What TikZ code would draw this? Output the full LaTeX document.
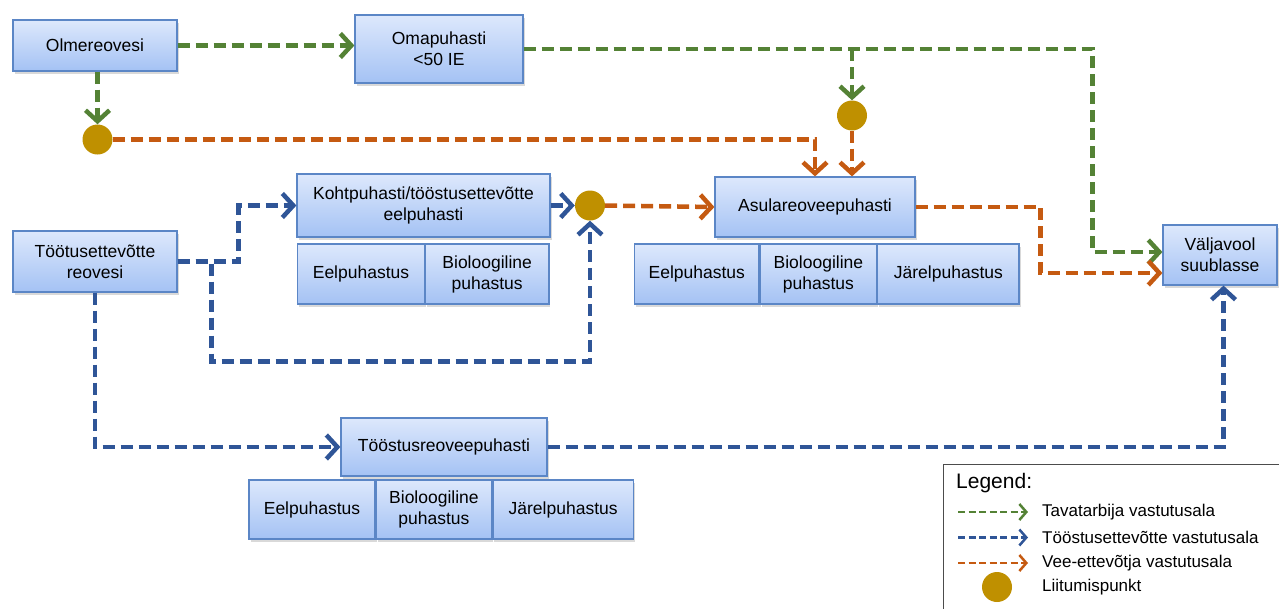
\documentclass[tikz,border=0pt]{standalone}
\usepackage{fontspec}
\setmainfont{Liberation Sans}
\usetikzlibrary{arrows.meta,shadows,calc,positioning}
\definecolor{boxtop}{HTML}{DDE8FC}
\definecolor{boxbot}{HTML}{A4C2F4}
\definecolor{boxline}{HTML}{5B86C6}
\definecolor{flowgreen}{HTML}{548235}
\definecolor{flowblue}{HTML}{2F5597}
\definecolor{floworange}{HTML}{C55A11}
\definecolor{joingold}{HTML}{BF9000}
\tikzset{
  procbox/.style = {align=center, inner sep=0pt, draw=boxline, line width=1.2pt, top color=boxtop, bottom color=boxbot, font=\fontsize{17.5}{21}\selectfont, drop shadow={shadow xshift=1.5pt, shadow yshift=-2.5pt, opacity=0.3}},
  subbox/.style = {procbox, minimum height=60pt},
  joinpt/.style = {circle, inner sep=0pt, minimum size=30pt, fill=joingold},
  flow/.style = {line width=4.5pt, dash pattern=on 12pt off 6pt, -{Straight Barb[length=11pt,width=24pt]}},
  green_flow/.style = {flow, draw=flowgreen},
  blue_flow/.style = {flow, draw=flowblue},
  orange_flow/.style = {flow, draw=floworange},
  key_flow/.style = {line width=2.5pt, dash pattern=on 7pt off 3.5pt, -{Straight Barb[length=7pt,width=16pt]}},
  key_text/.style = {anchor=west, inner sep=0pt, font=\fontsize{17}{21}\selectfont}
}

\begin{document}
\begin{tikzpicture}[x=1pt, y=-1pt]
  \useasboundingbox (0,0) rectangle (1279,608);
  % main boxes
  \node [procbox, minimum width=164pt, minimum height=51pt] (olme) at (95,45.5) {Olmereovesi};
  \node [procbox, minimum width=168pt, minimum height=68pt] (oma) at (439,49) {Omapuhasti\\<50 IE};
  \node [procbox, minimum width=253pt, minimum height=63pt] (kohtp) at (423.5,205.5) {Kohtpuhasti/tööstusettevõtte\\eelpuhasti};
  \node [procbox, minimum width=164pt, minimum height=61pt] (tootus) at (95,261.5) {Töötusettevõtte\\reovesi};
  \node [procbox, minimum width=200pt, minimum height=60pt] (asula) at (815,207) {Asulareoveepuhasti};
  \node [procbox, minimum width=114pt, minimum height=60pt] (valja) at (1220,255) {Väljavool\\suublasse};
  \node [procbox, minimum width=206pt, minimum height=58pt] (toostus) at (444,447) {Tööstusreoveepuhasti};
  % treatment steps
  \node [subbox, minimum width=126.5pt] (k_eel) at (361,274) {Eelpuhastus};
  \node [subbox, minimum width=123.5pt, right=0pt of k_eel] (k_bio) {Bioloogiline\\puhastus};
  \node [subbox, minimum width=124.4pt] (a_eel) at (696.8,274) {Eelpuhastus};
  \node [subbox, minimum width=116.4pt, right=0pt of a_eel] (a_bio) {Bioloogiline\\puhastus};
  \node [subbox, minimum width=141.2pt, right=0pt of a_bio] (a_jar) {Järelpuhastus};
  \node [subbox, minimum width=126pt, minimum height=59pt] (t_eel) at (312,509.5) {Eelpuhastus};
  \node [subbox, minimum width=115.5pt, minimum height=59pt, right=0pt of t_eel] (t_bio) {Bioloogiline\\puhastus};
  \node [subbox, minimum width=140.5pt, minimum height=59pt, right=0pt of t_bio] (t_jar) {Järelpuhastus};
  % connection points
  \node [joinpt] (jleft) at (97.5,139.5) {};
  \node [joinpt] (jtop) at (852,115.5) {};
  \node [joinpt] (jmid) at (590,205.5) {};

  \draw [green_flow] (olme.east) -- (olme.east -| oma.west);
  \draw [green_flow] (jleft.north |- olme.south) -- (jleft.north);
  \draw [green_flow] (oma.east) -| ($(valja.west)+(-70,-3)$) -- ($(valja.west)+(0,-3)$);
  \draw [green_flow] (jtop.north |- oma.east) -- (jtop.north);

  \draw [orange_flow] (jleft.east) -| (asula.north);
  \draw [orange_flow] (jtop.south) -- (jtop.south |- asula.north);
  \draw [orange_flow] (jmid.east) -- (asula.west);
  \draw [orange_flow] (asula.east) -- ++(125,0) |- ($(valja.west)+(0,18)$);

  \draw [blue_flow] (tootus.east) -- ++(61,0) |- (kohtp.west);
  \draw [blue_flow] (tootus.east) -- ++(34,0) -- ++(0,100) -| (jmid.south);
  \draw [blue_flow] (kohtp.east) -- (jmid.west);
  \draw [blue_flow] (tootus.south) |- (toostus.west);
  \draw [blue_flow] (toostus.east) -| ($(valja.south)+(3.5,0)$);

  % legend
  \draw [line width=1pt, draw=black!70] (943,464) rectangle (1281,610);
  \node [key_text, font=\fontsize{21}{24}\selectfont] (lgd) at (956,483) {Legend:};
  \foreach \col/\txt [count=\i] in {flowgreen/Tavatarbija vastutusala, flowblue/Tööstusettevõtte vastutusala, floworange/Vee-ettevõtja vastutusala}{
    \coordinate (ls\i) at (958,486.5+25.5*\i);
    \coordinate (le\i) at (1028,486.5+25.5*\i);
    \draw [key_flow, draw=\col] (ls\i) -- (le\i);
    \node [key_text] (lt\i) at (1042,486.5+25.5*\i) {\txt};
  }
  \node [joinpt] (lj) at (997,587) {};
  \node [key_text] (lt4) at (1042,587) {Liitumispunkt};
\end{tikzpicture}
\end{document}
